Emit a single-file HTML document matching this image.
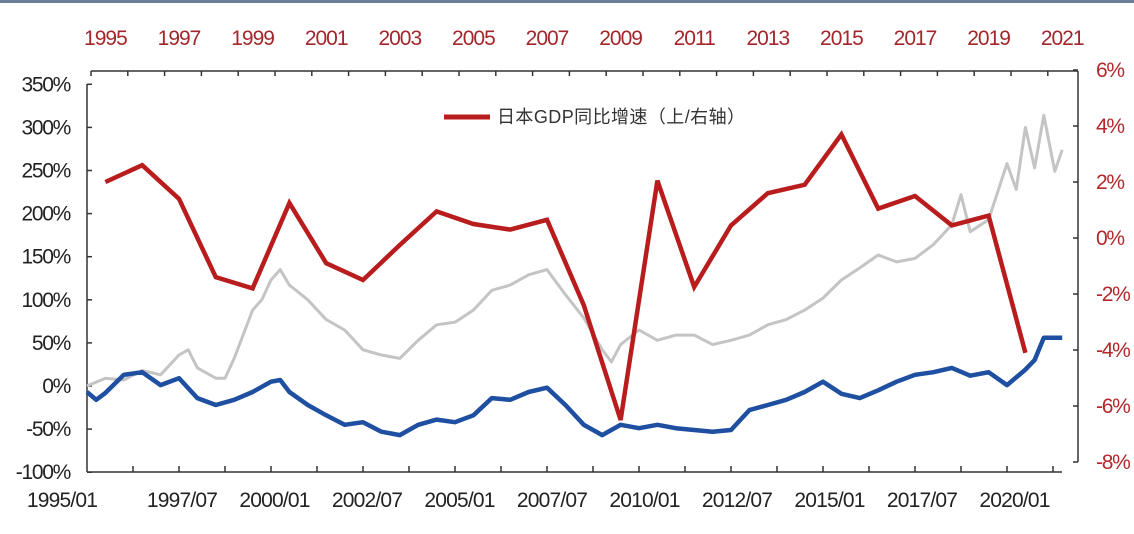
<!DOCTYPE html>
<html><head><meta charset="utf-8"><style>
html,body{margin:0;padding:0;background:#fff;}
svg{display:block;font-family:"Liberation Sans","Noto Sans CJK SC",sans-serif;}
</style></head><body>
<svg id="c" width="1134" height="534" viewBox="0 0 1134 534">
<rect x="0" y="0" width="1134" height="3" fill="#6a7f95"/>
<g id="axes"></g>
<g id="series"></g>
<g>
<line x1="444" y1="117" x2="490" y2="117" stroke="#b81c1c" stroke-width="5"/>
<text x="497" y="123" font-size="18" fill="#333" textLength="248">日本GDP同比增速（上/右轴）</text>
</g>
</svg>
<script>
// ---- data ----
const gdpYears = [1995,1996,1997,1998,1999,2000,2001,2002,2003,2004,2005,2006,2007,2008,2009,2010,2011,2012,2013,2014,2015,2016,2017,2018,2019,2020];
const gdpValues = [2.0,2.6,1.4,-1.4,-1.8,1.25,-0.9,-1.5,-0.25,0.95,0.5,0.3,0.65,-2.4,-6.5,2.05,-1.75,0.45,1.6,1.9,3.7,1.05,1.5,0.45,0.8,-4.1];
const grayTimes = [1995.0,1995.5,1996.0,1996.5,1997.0,1997.5,1997.75,1998.0,1998.5,1998.75,1999.0,1999.5,1999.75,2000.0,2000.25,2000.5,2001.0,2001.5,2002.0,2002.5,2003.0,2003.5,2004.0,2004.5,2005.0,2005.5,2006.0,2006.5,2007.0,2007.5,2008.0,2008.5,2009.0,2009.25,2009.5,2010.0,2010.5,2011.0,2011.5,2012.0,2012.5,2013.0,2013.5,2014.0,2014.5,2015.0,2015.5,2016.0,2016.5,2017.0,2017.5,2018.0,2018.5,2018.75,2019.0,2019.5,2020.0,2020.25,2020.5,2020.75,2021.0,2021.3,2021.5];
const grayValues = [0,9,7,18,13,36,42,21,9,9,32,88,100,123,135,117,100,77,65,42,36,32,53,71,74,88,111,117,129,135,106,79,42,28,48,65,53,59,59,48,53,59,71,77,88,102,123,137,152,144,148,164,187,222,179,193,258,228,300,253,314,249,274];
const blueTimes = [1995.0,1995.25,1995.5,1996.0,1996.5,1997.0,1997.5,1998.0,1998.5,1999.0,1999.5,2000.0,2000.25,2000.5,2001.0,2001.5,2002.0,2002.5,2003.0,2003.5,2004.0,2004.5,2005.0,2005.5,2006.0,2006.5,2007.0,2007.5,2008.0,2008.5,2009.0,2009.5,2010.0,2010.5,2011.0,2011.5,2012.0,2012.5,2013.0,2013.5,2014.0,2014.5,2015.0,2015.5,2016.0,2016.5,2017.0,2017.5,2018.0,2018.5,2019.0,2019.5,2020.0,2020.5,2020.75,2021.0,2021.5];
const blueValues = [-7,-16,-8,13,16,1,9,-14,-22,-16,-7,5,7,-7,-22,-34,-45,-42,-53,-57,-45,-39,-42,-34,-14,-16,-7,-2,-22,-45,-57,-45,-49,-45,-49,-51,-53,-51,-28,-22,-16,-7,5,-9,-14,-5,5,13,16,21,12,16,1,19,30,56,56];
const leftTicks = [350,300,250,200,150,100,50,0,-50,-100];
const rightTicks = [6,4,2,0,-2,-4,-6,-8];
const topYears = [1995,1997,1999,2001,2003,2005,2007,2009,2011,2013,2015,2017,2019,2021];
const bottomLabels = ["1995/01","1997/07","2000/01","2002/07","2005/01","2007/07","2010/01","2012/07","2015/01","2017/07","2020/01"];

// ---- scales ----
const X0=87, PX_PER_YEAR=36.8;
const xT = t => X0 + (t-1995)*PX_PER_YEAR;
const yL = v => 386 - v*0.862;
const yR = v => 238 - v*28;
const NS="http://www.w3.org/2000/svg";
const axes=document.getElementById('axes'), series=document.getElementById('series');
function mk(tag, attrs, parent){const e=document.createElementNS(NS,tag);for(const k in attrs)e.setAttribute(k,attrs[k]);parent.appendChild(e);return e;}

let e;
e=mk('line',{x1:87,y1:472,x2:1062,y2:472,stroke:'#333','stroke-width':1.5},axes);


e=mk('line',{x1:87,y1:84,x2:87,y2:472,stroke:'#333','stroke-width':1.5},axes);


e=mk('line',{x1:91,y1:71,x2:1078,y2:71,stroke:'#333','stroke-width':1.5},axes);


e=mk('line',{x1:1078,y1:71,x2:1078,y2:462,stroke:'#333','stroke-width':1.5},axes);



leftTicks.forEach(v=>{
  const y=yL(v);
  mk('line',{x1:87,y1:y,x2:92,y2:y,stroke:'#333','stroke-width':1.5},axes);
  const t=mk('text',{x:70,y:y+7,'font-size':21,'text-anchor':'end',fill:'#222','letter-spacing':'-1.3'},axes);
  t.textContent=v+'%';
  
  
});
rightTicks.forEach(v=>{
  const y=yR(v);
  mk('line',{x1:1073,y1:y,x2:1078,y2:y,stroke:'#333','stroke-width':1.5},axes);
  const t=mk('text',{x:1096,y:y+7,'font-size':21,fill:'#b5272a','letter-spacing':'-1.3'},axes);
  t.textContent=v+'%';
  
  
});
for(let y=1995;y<=2021;y++){
  const x=xT(y)+4;
  mk('line',{x1:x,y1:71,x2:x,y2:76,stroke:'#333','stroke-width':1.5},axes);
}
topYears.forEach(yr=>{
  const t=mk('text',{x:xT(yr+0.5),y:45,'font-size':21,'text-anchor':'middle',fill:'#a3262b','letter-spacing':'-1'},axes);
  t.textContent=yr;
  
  
});
for(let k=1;k*1.25<=26.5;k++){
  const x=xT(1995+k*1.25);
  mk('line',{x1:x,y1:466,x2:x,y2:472,stroke:'#333','stroke-width':1.5},axes);
}
bottomLabels.forEach((s,i)=>{
  const cx = i===0 ? 62 : 182+(i-1)*92.5;
  const t=mk('text',{x:cx,y:507,'font-size':21,'text-anchor':'middle',fill:'#222','letter-spacing':'-0.8'},axes);
  t.textContent=s;
  
  
});

function pts(ts,vs,fx,fy){return ts.map((t,i)=>fx(t).toFixed(1)+','+fy(vs[i]).toFixed(1)).join(' ');}
e=mk('polyline',{points:pts(grayTimes,grayValues,xT,yL),fill:'none',stroke:'#c4c4c4','stroke-width':3,'stroke-linejoin':'round'},series);


e=mk('polyline',{points:pts(blueTimes,blueValues,xT,yL),fill:'none',stroke:'#1f4fa0','stroke-width':4.5,'stroke-linejoin':'round'},series);


e=mk('polyline',{points:pts(gdpYears,gdpValues,t=>xT(t+0.5),yR),fill:'none',stroke:'#b81c1c','stroke-width':4.5,'stroke-linejoin':'miter'},series);


</script>
</body></html>
